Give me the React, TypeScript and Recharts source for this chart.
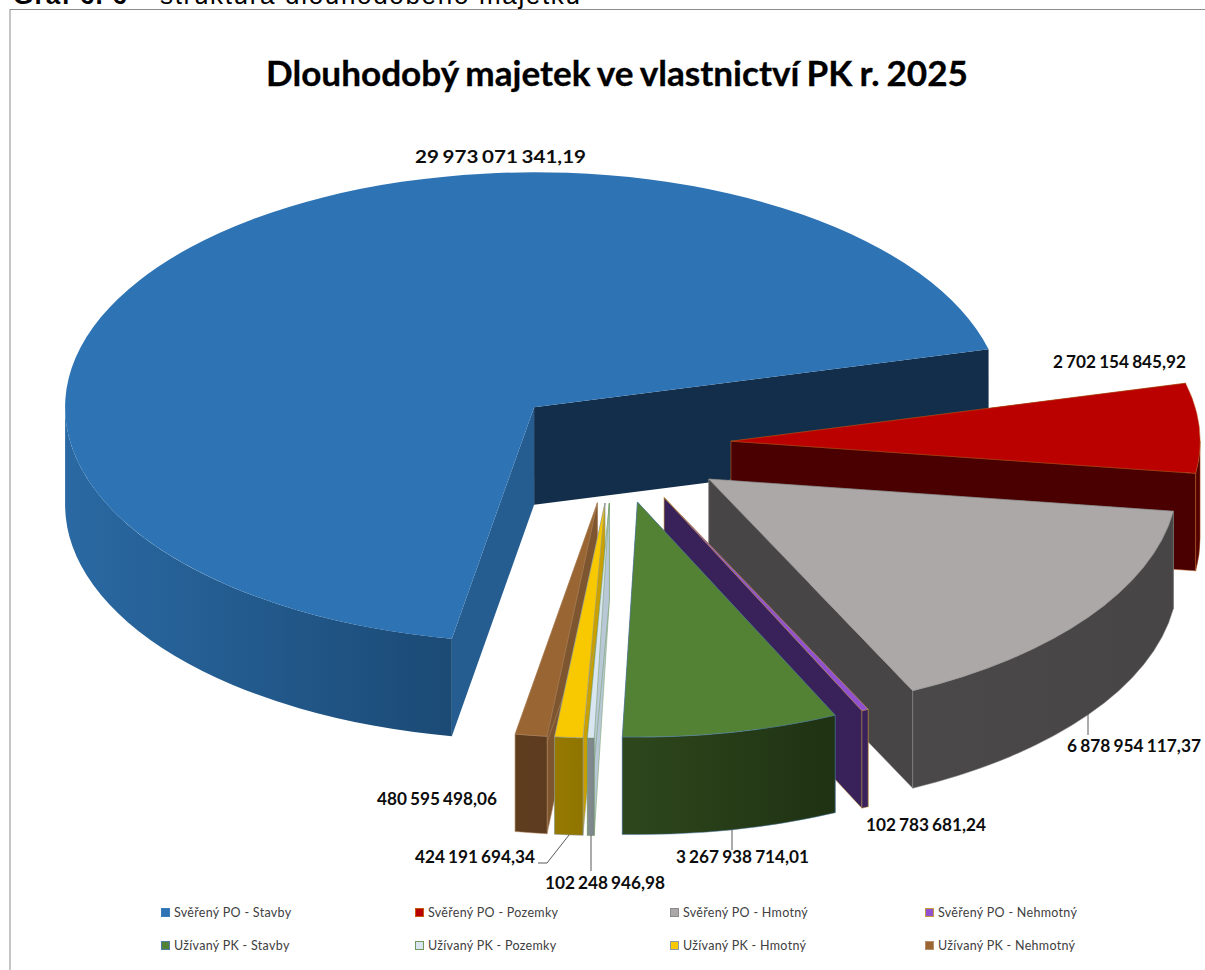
import { Legend, Pie, PieChart } from 'recharts';

const seriesNames = [
  'Svěřený PO - Stavby',
  'Svěřený PO - Pozemky',
  'Svěřený PO - Hmotný',
  'Svěřený PO - Nehmotný',
  'Užívaný PK - Stavby',
  'Užívaný PK - Pozemky',
  'Užívaný PK - Hmotný',
  'Užívaný PK - Nehmotný',
];
const seriesValues = [
  29973071341.19, 2702154845.92, 6878954117.37, 102783681.24, 3267938714.01, 102248946.98, 424191694.34,
  480595498.06,
];

// colours per slice, same order as the series
const topColors = ['#2e74b5', '#bb0000', '#aca8a7', '#9152d2', '#548235', '#d9e6f2', '#f8c800', '#996633'];
const cutColors = ['#265d91', '#4a0000', '#474545', '#39215a', '#2b431b', '#b8c8d6', '#c9a000', '#7d5630'];
const wallLeftColors = ['#2a69a3', '#5a0000', '#4a4848', '#3b2260', '#2e471c', '#838d91', '#967a00', '#5f3e20'];
const wallRightColors = ['#1b4a75', '#4a0000', '#474545', '#39215a', '#1f3213', '#7c868a', '#8f7400', '#5c3b1e'];
const edgeColors = ['none', '#b5561a', '#8b8b8b', '#c49a3c', '#4f7da8', '#6f9a5c', '#8a9aa8', '#b98f6a'];
const markerEdges = ['#3a7cba', '#c55a11', '#8b8b8b', '#c49a3c', '#4f7da8', '#6f9a5c', '#8a9aa8', '#b98f6a'];

const sliceData = seriesNames.map((name, i) => ({ name, value: seriesValues[i], fill: topColors[i] }));

// painter's order, the thin slices at the bottom overlap right to left
const drawOrder = [0, 1, 2, 3, 4, 7, 6, 5];

const CX = 614;
const CY = 444.5;
const RADIUS = 469;
const TILT = 0.5011;
const DEPTH = 97.5;
const START_ANGLE = 259.9;
const explosion = [0.2326, 0.25, 0.25, 0.25, 0.25, 0.25, 0.25, 0.25];

const labelLayout = [
  { x: 415, y: 163, w: 171 },
  { x: 1053, y: 368, w: 133 },
  { x: 1067, y: 752, w: 134 },
  { x: 866, y: 831, w: 120 },
  { x: 676, y: 863, w: 133 },
  { x: 545, y: 889, w: 120 },
  { x: 415, y: 863, w: 120 },
  { x: 377, y: 805, w: 120 },
];
const leaderLines = [
  '',
  '',
  'M1088 714V735',
  '',
  'M732 829V850',
  'M591 835V871',
  'M569 835L547 863H538',
  '',
];

const legendColumns = [161, 415, 670, 925];
const legendRows = [913, 946];

const rad = (deg: number) => (deg * Math.PI) / 180;

function Slice3D({ cx, cy, outerRadius, startAngle, endAngle, name }: any) {
  const i = seriesNames.indexOf(name);
  const ry = outerRadius * TILT;
  const mid = rad((startAngle + endAngle) / 2);
  const ax = cx + outerRadius * explosion[i] * Math.cos(mid);
  const ay = cy - ry * explosion[i] * Math.sin(mid);
  const rim = (deg: number, drop = 0) => {
    const x = ax + outerRadius * Math.cos(rad(deg));
    const y = ay - ry * Math.sin(rad(deg)) + drop;
    return `${x.toFixed(2)} ${y.toFixed(2)}`;
  };
  const large = startAngle - endAngle > 180 ? 1 : 0;
  const top = `M${ax} ${ay}L${rim(startAngle)}A${outerRadius} ${ry} 0 ${large} 1 ${rim(endAngle)}Z`;
  const cut = (deg: number) => `M${ax} ${ay}L${rim(deg)}L${rim(deg, DEPTH)}L${ax} ${ay + DEPTH}Z`;

  // only the part of the rim that faces the viewer gets an outer wall
  const front = [
    [180, 360],
    [-180, 0],
  ]
    .map(([lo, hi]) => [Math.min(startAngle, hi), Math.max(endAngle, lo)])
    .filter(([a, b]) => a > b);

  const edge = { stroke: edgeColors[i], strokeWidth: 0.5, strokeLinejoin: 'round' as const };
  return (
    <g>
      <path d={cut(startAngle)} fill={cutColors[i]} {...edge} />
      <path d={cut(endAngle)} fill={i === 0 ? '#132e4b' : cutColors[i]} {...edge} />
      {front.map(([a, b]) => {
        const xs = [a, b, (a + b) / 2].map((d) => ax + outerRadius * Math.cos(rad(d)));
        const id = `wall-${i}-${Math.round(a)}`;
        return (
          <g key={id}>
            <defs>
              <linearGradient id={id} gradientUnits="userSpaceOnUse" x1={Math.min(...xs)} x2={Math.max(...xs)} y1={0} y2={0}>
                <stop offset="0" stopColor={wallLeftColors[i]} />
                <stop offset="1" stopColor={wallRightColors[i]} />
              </linearGradient>
            </defs>
            <path
              d={`M${rim(a)}A${outerRadius} ${ry} 0 0 1 ${rim(b)}L${rim(b, DEPTH)}A${outerRadius} ${ry} 0 0 0 ${rim(a, DEPTH)}Z`}
              fill={`url(#${id})`}
              {...edge}
            />
          </g>
        );
      })}
      <path d={top} fill={topColors[i]} {...edge} />
    </g>
  );
}

function formatValue(v: number) {
  const [whole, dec] = v.toFixed(2).split('.');
  return `${whole.replace(/\B(?=(\d{3})+$)/g, ' ')},${dec}`;
}

function DataLabel({ name, value }: any) {
  const i = seriesNames.indexOf(name);
  const l = labelLayout[i];
  return (
    <g>
      {leaderLines[i] && <path d={leaderLines[i]} fill="none" stroke="#595959" strokeWidth={1} />}
      <text
        x={l.x}
        y={l.y}
        textLength={l.w}
        lengthAdjust="spacingAndGlyphs"
        fontFamily="Lato"
        fontWeight={700}
        fontSize={16.5}
        wordSpacing={-1}
        fill="#0d0d0d"
      >
        {formatValue(value)}
      </text>
    </g>
  );
}

function ChartLegend({ payload }: any) {
  return (
    <div>
      {seriesNames.map((name, i) => {
        const entry = (payload || []).find((p: any) => p.value === name);
        const left = legendColumns[i % 4];
        const top = legendRows[Math.floor(i / 4)];
        return (
          <div key={name} style={{ position: 'absolute', left, top: top - 9, height: 18, whiteSpace: 'nowrap' }}>
            <span
              style={{
                position: 'absolute',
                left: 0,
                top: 4,
                width: 7,
                height: 7,
                background: entry ? entry.color : topColors[i],
                border: `1px solid ${markerEdges[i]}`,
              }}
            />
            <span
              style={{
                position: 'absolute',
                left: 13,
                top: 0,
                fontFamily: 'Lato',
                fontSize: 12.5,
                lineHeight: '18px',
                letterSpacing: 0.3,
                color: '#404040',
              }}
            >
              {name}
            </span>
          </div>
        );
      })}
    </div>
  );
}

export default function App() {
  return (
    <div style={{ position: 'absolute', left: 0, top: 0, width: 1205, height: 970, overflow: 'hidden', background: '#fff' }}>
      <PieChart width={1205} height={970} margin={{ top: 0, right: 0, bottom: 0, left: 0 }}>
        <rect x={10} y={9.5} width={1400} height={1100} fill="none" stroke="#8c8c8c" strokeWidth={1} />
        <text x={13} y={4} textLength={114} fontFamily="Liberation Sans" fontWeight={700} fontSize={26} fill="#000">
          Graf 6. 6
        </text>
        <text x={160} y={4} textLength={420} fontFamily="Liberation Sans" fontSize={26} fill="#000">
          struktura dlouhodobého majetku
        </text>
        <text
          x={266}
          y={86}
          textLength={702}
          lengthAdjust="spacingAndGlyphs"
          fontFamily="Lato"
          fontWeight={700}
          fontSize={35}
          wordSpacing={-1.5}
          stroke="#000"
          strokeWidth={0.3}
          fill="#000"
        >
          Dlouhodobý majetek ve vlastnictví PK r. 2025
        </text>
        {drawOrder.map((idx) => (
          <Pie
            key={idx}
            data={sliceData}
            dataKey="value"
            nameKey="name"
            cx={CX}
            cy={CY}
            innerRadius={0}
            outerRadius={RADIUS}
            startAngle={START_ANGLE}
            endAngle={START_ANGLE - 360}
            isAnimationActive={false}
            shape={(props: any) => (props.name === seriesNames[idx] ? <Slice3D {...props} /> : <g />)}
          />
        ))}
        <Pie
          data={sliceData}
          dataKey="value"
          nameKey="name"
          cx={CX}
          cy={CY}
          outerRadius={RADIUS}
          startAngle={START_ANGLE}
          endAngle={START_ANGLE - 360}
          isAnimationActive={false}
          shape={() => <g />}
          labelLine={false}
          label={(props: any) => <DataLabel {...props} />}
        />
        <Legend
          content={(props: any) => <ChartLegend {...props} />}
          wrapperStyle={{ position: 'absolute', left: 0, top: 0, width: 1205, height: 0 }}
        />
      </PieChart>
    </div>
  );
}
